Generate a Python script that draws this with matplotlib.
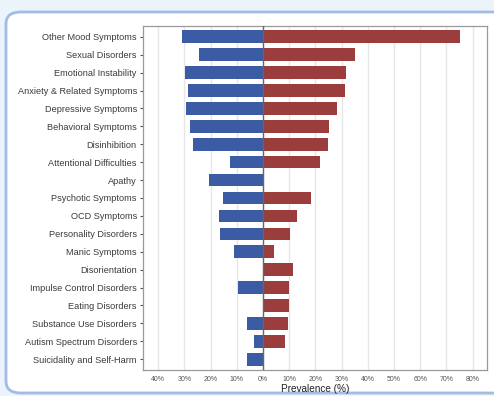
import matplotlib.pyplot as plt
from matplotlib.patches import FancyBboxPatch
import numpy as np

plt.rcParams['font.family'] = ['Liberation Sans', 'DejaVu Sans']

categories = ['Other Mood Symptoms', 'Sexual Disorders', 'Emotional Instability',
              'Anxiety & Related Symptoms', 'Depressive Symptoms', 'Behavioral Symptoms',
              'Disinhibition', 'Attentional Difficulties', 'Apathy', 'Psychotic Symptoms',
              'OCD Symptoms', 'Personality Disorders', 'Manic Symptoms', 'Disorientation',
              'Impulse Control Disorders', 'Eating Disorders', 'Substance Use Disorders',
              'Autism Spectrum Disorders', 'Suicidality and Self-Harm']
left_vals = [30.8, 24.5, 29.7, 28.5, 29.4, 27.7, 26.6, 12.6, 20.6, 15.4,
             16.7, 16.4, 11.2, 0, 9.5, 0, 6.2, 3.4, 6.1]
right_vals = [75.2, 35.2, 31.7, 31.3, 28.2, 25.1, 24.7, 21.6, 0, 18.2,
              12.9, 10.2, 4.3, 11.3, 10.0, 9.8, 9.5, 8.5, 0]
ticks = [-40, -30, -20, -10, 0, 10, 20, 30, 40, 50, 60, 70, 80]

fig = plt.figure(figsize=(4.94, 3.96), dpi=100, facecolor='#ebf3fb')
box = FancyBboxPatch((6 / 494, 3 / 396), 1.2, 381 / 396,
                     boxstyle='round,pad=0,rounding_size=0.03',
                     transform=fig.transFigure, facecolor='white',
                     edgecolor='#a3bce3', linewidth=2, zorder=-5)
fig.patches.append(box)

ax = fig.add_axes([143 / 494, 26 / 396, 344 / 494, 344 / 396])
ax.set_facecolor('white')
y = np.arange(len(categories))
ax.barh(y, [-v for v in left_vals], height=0.7, color='#3b5ba5', zorder=3)
ax.barh(y, right_vals, height=0.7, color='#9b3d3d', zorder=3)
ax.axvline(0, color='#666666', linewidth=1, zorder=4)

ax.set_xlim(-45.8, 85.5)
ax.set_ylim(len(categories) - 0.4, -0.6)
ax.set_yticks(y)
ax.set_yticklabels(categories, fontsize=6.6, color='#3a3a3a')
ax.set_xticks(ticks)
ax.set_xticklabels([f'{abs(t)}%' for t in ticks], fontsize=5, color='#555555')
ax.tick_params(axis='y', length=2.5, width=0.8, color='#555555', pad=2)
ax.tick_params(axis='x', length=0, pad=4)
ax.grid(axis='x', color='#e6e6e6', linewidth=1, zorder=0)
for s in ax.spines.values():
    s.set_color('#999999')
    s.set_linewidth(0.9)
ax.set_xlabel('Prevalence (%)', fontsize=7.2, color='#222222', labelpad=1)

fig.savefig('out.png', dpi=100, facecolor=fig.get_facecolor())
